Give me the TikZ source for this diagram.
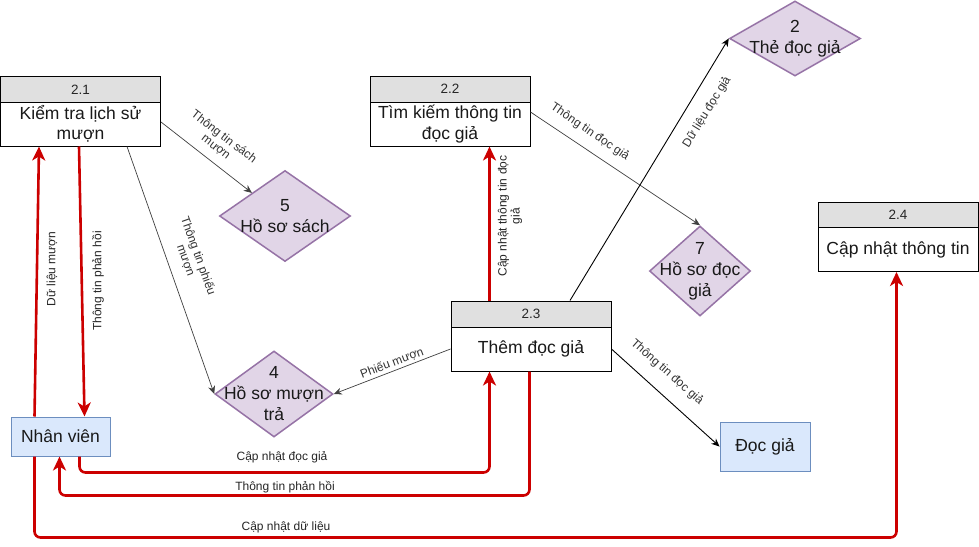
\documentclass[tikz,border=0pt]{standalone}
\usepackage{fontspec}
\setmainfont{Liberation Sans}
\usetikzlibrary{arrows.meta,shapes.geometric}
\definecolor{hdrgray}{HTML}{E0E0E0}
\definecolor{flowred}{HTML}{CC0000}
\definecolor{storefill}{HTML}{E1D5E7}
\definecolor{storestroke}{HTML}{9673A6}
\definecolor{extfill}{HTML}{DAE8FC}
\definecolor{extstroke}{HTML}{6C8EBF}
\definecolor{lblgray}{HTML}{333333}
\begin{document}
\begin{tikzpicture}[x=1pt,y=-1pt,
  hdr/.style={draw=black, fill=hdrgray, line width=1pt, minimum width=160pt, minimum height=26pt, inner sep=0pt, font=\fontsize{13.5}{15}\selectfont, text=black!85},
  bodybox/.style={draw=black, fill=white, line width=1pt, minimum width=160pt, minimum height=44pt, inner sep=0pt, align=center, font=\fontsize{17.5}{20.5}\selectfont, text=black!90},
  store/.style={diamond, draw=storestroke, fill=storefill, line width=1.5pt, inner sep=0pt},
  storetext/.style={align=center, font=\fontsize{17.5}{21}\selectfont, text=black!90, inner sep=0pt},
  ext/.style={draw=extstroke, fill=extfill, line width=1pt, inner sep=0pt, font=\fontsize{17.5}{20}\selectfont, text=black!90},
  thinflow/.style={draw=black!75, line width=0.7pt, -{Stealth[length=8pt,width=7pt,inset=2.5pt]}},
  blackflow/.style={draw=black, line width=0.9pt, -{Stealth[length=8pt,width=7pt,inset=2.5pt]}},
  redflow/.style={draw=flowred, line width=2.6pt, rounded corners=6pt, -{Stealth[length=14pt,width=13pt,inset=4pt]}},
  lbl/.style={font=\fontsize{12}{13}\selectfont, text=lblgray, align=center, inner sep=0pt},
  rlbl/.style={font=\fontsize{12}{13}\selectfont, text=black!85, align=center, inner sep=0pt}
]
\useasboundingbox (0,0) rectangle (979,546);
\fill[white] (0,0) rectangle (979,546);

% process boxes
\node[hdr] (p21h) at (80.5,89.5) {2.1};
\node[bodybox] (p21) at (80.5,124) {Kiểm tra lịch sử\\mượn};
\node[hdr] (p22h) at (450,89) {2.2};
\node[bodybox] (p22) at (450,124) {Tìm kiếm thông tin\\đọc giả};
\node[hdr] (p23h) at (531,314) {2.3};
\node[bodybox] (p23) at (531,349) {Thêm đọc giả};
\node[hdr] (p24h) at (898,215) {2.4};
\node[bodybox] (p24) at (898,249.5) {Cập nhật thông tin};

% data stores
\node[store, minimum width=131pt, minimum height=91pt] (d5) at (285,216) {};
\node[storetext] (d5t) at (285,216) {5\\Hồ sơ sách};
\node[store, minimum width=131pt, minimum height=75pt] (d2) at (795,38.5) {};
\node[storetext] (d2t) at (795,38.5) {2\\Thẻ đọc giả};
\node[store, minimum width=101pt, minimum height=90pt] (d7) at (700,271) {};
\node[storetext] (d7t) at (700,271) {7\\Hồ sơ đọc\\giả};
\node[store, minimum width=118pt, minimum height=86pt] (d4) at (274,394) {};
\node[storetext] (d4t) at (274,394) {4\\Hồ sơ mượn\\trả};

% external entities
\node[ext, minimum width=99pt, minimum height=39pt] (nv) at (60.5,436.5) {Nhân viên};
\node[ext, minimum width=90pt, minimum height=49pt] (dg) at (765,446.5) {Đọc giả};

% thin flows
\draw[thinflow] ([yshift=2pt]p21.east) -- (d5.north west);
\draw[thinflow] ([xshift=127pt]p21.south west) -- (d4.west);
\draw[thinflow] ([yshift=12pt]p22.east) -- (d7.north);
\draw[thinflow] (p23.west) -- (d4.east);
\draw[blackflow] ([xshift=39pt]p23h.north) -- (d2.west);
\draw[blackflow] (p23.east) -- (dg.west);

% red flows
\draw[redflow] ([xshift=24pt]nv.north west) -- ([xshift=39pt]p21.south west);
\draw[redflow] ([xshift=79pt]p21.south west) -- ([xshift=74pt]nv.north west);
\draw[redflow] ([xshift=69pt]nv.south west) -- ++(0,16) -| ([xshift=39pt]p23.south west);
\draw[redflow] ([xshift=79pt]p23.south west) -- ++(0,124) -| ([xshift=49pt]nv.south west);
\draw[redflow] ([xshift=24pt]nv.south west) -- ++(0,81) -| ([xshift=79pt]p24.south west);
\draw[redflow] ([xshift=39pt]p23h.north west) -- ([xshift=120pt]p22.south west);

% labels
\node[lbl, rotate=-37.7] (l1) at (220,142) {Thông tin sách\\mượn};
\node[lbl, rotate=-70.4] (l2) at (192,258) {Thông tin phiếu\\mượn};
\node[lbl, rotate=-34.3] (l3) at (590,132) {Thông tin đọc giả};
\node[lbl, rotate=20.6] (l4) at (392,363) {Phiếu mượn};
\node[lbl, rotate=58.4] (l5) at (707,112) {Dữ liệu đọc giả};
\node[lbl, rotate=-41.3] (l6) at (667,372) {Thông tin đọc giả};
\node[rlbl, rotate=90] (l7) at (52,269) {Dữ liệu mượn};
\node[rlbl, rotate=90] (l8) at (98,281) {Thông tin phản hồi};
\node[rlbl, rotate=90] (l9) at (510,216) {Cập nhật thông tin đọc\\giả};
\node[rlbl] (l10) at (282,457) {Cập nhật đọc giả};
\node[rlbl] (l11) at (285,487) {Thông tin phản hồi};
\node[rlbl] (l12) at (286,527) {Cập nhật dữ liệu};
\end{tikzpicture}
\end{document}
